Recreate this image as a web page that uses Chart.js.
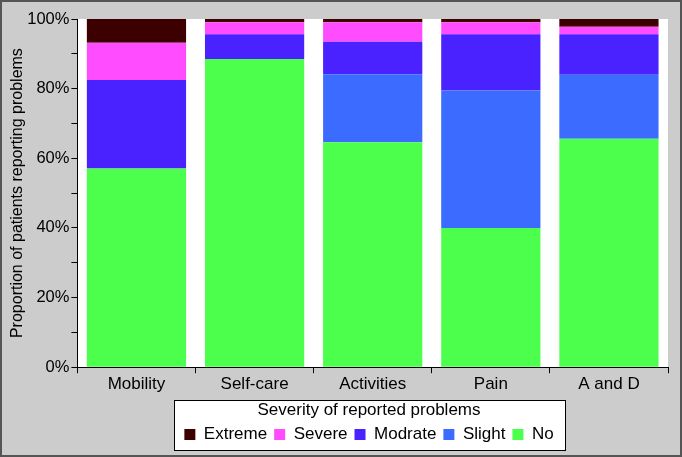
<!DOCTYPE html>
<html lang="en">
<head>
<meta charset="UTF-8">
<title>Severity of reported problems</title>
<script src="https://cdn.jsdelivr.net/npm/chart.js@4"></script>
<style>
  html, body { margin: 0; padding: 0; background: #cccccc; }
  #wrap { width: 682px; height: 457px; box-sizing: border-box; border: 2px solid #555; background: #cccccc; }
  canvas { display: block; }
</style>
</head>
<body>
<div id="wrap"><canvas id="chart" width="678" height="453"></canvas></div>
<script>
const categories = ['Mobility', 'Self-care', 'Activities', 'Pain', 'A and D'];
const noVals = [57.1, 88.5, 64.6, 40.0, 65.6];
const slightVals = [0, 0, 19.5, 39.5, 18.4];
const modrateVals = [25.4, 7.1, 9.4, 16.1, 11.6];
const severeVals = [10.7, 3.5, 5.6, 3.5, 2.2];
const extremeVals = [6.8, 0.9, 0.9, 0.9, 2.2];

const fontFamily = '"Liberation Sans", Arial, sans-serif';

// white plot area + white legend box with black frame
const backdrop = {
    id: 'backdrop',
    afterLayout(chart) {
        // legend box sits under the plot area, not the whole canvas
        const lg = chart.legend;
        lg.left += 31;
        lg.right += 31;
    },
    beforeDraw(chart) {
        const ctx = chart.ctx;
        const a = chart.chartArea;
        ctx.save();
        ctx.fillStyle = '#ffffff';
        ctx.fillRect(a.left, a.top, a.right - a.left, a.bottom - a.top);

        const lg = chart.legend;
        if (lg && lg.legendHitBoxes && lg.legendHitBoxes.length) {
            let l = Infinity, r = -Infinity;
            lg.legendHitBoxes.forEach(h => {
                l = Math.min(l, h.left);
                r = Math.max(r, h.left + h.width);
            });
            const x = Math.round(l - 10), y = Math.round(lg.top + 4);
            const w = Math.round(r - l + 22), hgt = Math.round(lg.bottom - 3 - y);
            ctx.fillRect(x, y, w, hgt);
            ctx.strokeStyle = '#000000';
            ctx.lineWidth = 1;
            ctx.strokeRect(x + 0.5, y + 0.5, w, hgt);
        }
        ctx.restore();
    }
};

new Chart(document.getElementById('chart'), {
    type: 'bar',
    data: {
        labels: categories,
        datasets: [
            { label: 'No', data: noVals, backgroundColor: '#4cff4c' },
            { label: 'Slight', data: slightVals, backgroundColor: '#3c6cff' },
            { label: 'Modrate', data: modrateVals, backgroundColor: '#4a22ff' },
            { label: 'Severe', data: severeVals, backgroundColor: '#ff4cff' },
            { label: 'Extreme', data: extremeVals, backgroundColor: '#3d0000' }
        ]
    },
    options: {
        responsive: false,
        animation: false,
        layout: { padding: { left: 6, right: 12, top: 17, bottom: 2 } },
        datasets: {
            bar: { categoryPercentage: 1.0, barPercentage: 0.84, borderWidth: 0 }
        },
        scales: {
            x: {
                stacked: true,
                grid: { offset: true, drawOnChartArea: false, drawTicks: true, tickLength: 6, color: '#000' },
                border: { color: '#000', width: 1 },
                ticks: { color: '#000', font: { family: fontFamily, size: 17 }, padding: 1 }
            },
            y: {
                stacked: true,
                min: 0,
                max: 100,
                grid: { drawOnChartArea: false, drawTicks: true, tickLength: 6, color: '#000' },
                border: { color: '#000', width: 1 },
                ticks: {
                    stepSize: 10,
                    autoSkip: false,
                    color: '#000',
                    font: { family: fontFamily, size: 16.5 },
                    padding: 2,
                    callback: v => (v % 20 === 0 ? v + '%' : '')
                },
                title: {
                    display: true,
                    text: 'Proportion of patients reporting problems',
                    color: '#000',
                    font: { family: fontFamily, size: 16 },
                    padding: { top: 0, bottom: -2 }
                }
            }
        },
        plugins: {
            tooltip: { enabled: false },
            legend: {
                position: 'bottom',
                reverse: true,
                title: {
                    display: true,
                    text: 'Severity of reported problems',
                    color: '#000',
                    font: { family: fontFamily, size: 17 },
                    padding: { top: 6, bottom: -3 }
                },
                labels: {
                    color: '#000',
                    font: { family: fontFamily, size: 17 },
                    boxWidth: 11,
                    boxHeight: 11,
                    padding: 7
                }
            }
        }
    },
    plugins: [backdrop]
});
</script>
</body>
</html>
